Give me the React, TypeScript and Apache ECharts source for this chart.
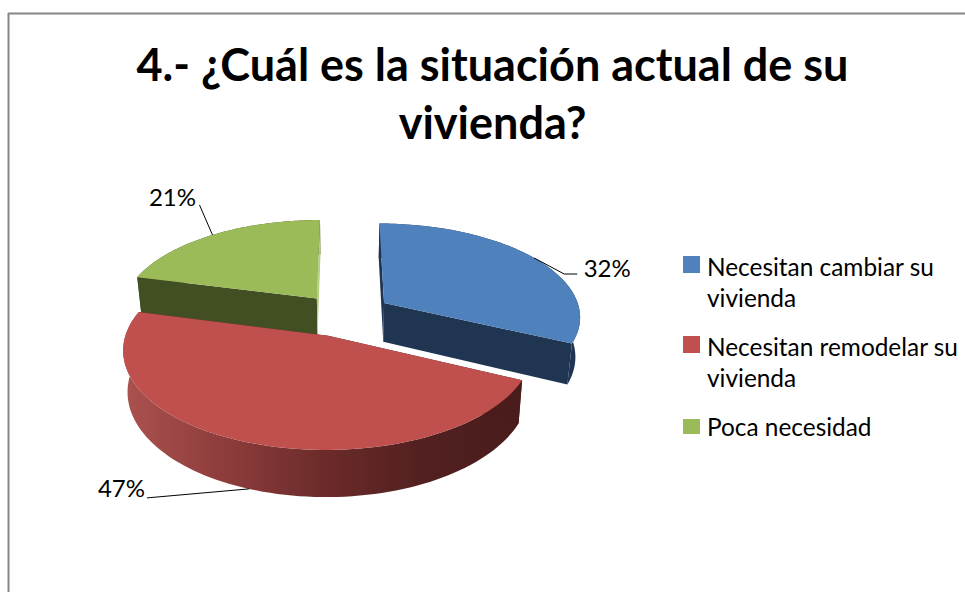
import React, { useEffect, useRef } from "react";
import * as echarts from "echarts";

const TITLE = "4.- ¿Cuál es la situación actual de su\nvivienda?";
const CATEGORIES = ["Necesitan cambiar su vivienda", "Necesitan remodelar su vivienda", "Poca necesidad"];
const LEGEND_LABELS = ["Necesitan cambiar su\nvivienda", "Necesitan remodelar su\nvivienda", "Poca necesidad"];
const VALUES = [32, 47, 21];
const TOP_COLORS = ["#4F81BD", "#C0504D", "#9BBB59"];
const START_FACE_COLORS = ["#1F3552", "#4A1C1B", "#414F23"];
const END_FACE_COLORS = ["#1F3552", "#4A1C1B", "#B5CC85"];
const WALL_STOPS = [
  [[0, "#1F3552"], [1, "#1F3552"]],
  [[0, "#AB524F"], [0.25, "#8E3D3C"], [0.5, "#6C2B2A"], [0.75, "#522020"], [1, "#4A1C1B"]],
  [[0, "#414F23"], [1, "#414F23"]],
];
const EXPLODE = [0.245, 0.23, 0.23];
// label placement relative to the slice's mid-arc anchor
const LABEL_LAYOUT = [
  { line: [[30, 16], [43, 16]], text: [73, 9], depth: 0 },
  { line: [[-102, 9]], text: [-127.5, -1], depth: 1 },
  { line: [[-13, -30]], text: [-40, -38], depth: 0 },
];

const CX = 344, CY = 315, RX = 197, RY = 93, PERSP = 0.133, DEPTH = 39.5, TAPER = 0.02;

function project(u: number, v: number, z: number) {
  const s = 1 / (1 - PERSP * v);
  return [CX + RX * u * s * (1 - TAPER * z), CY + RY * v * s + z * DEPTH * s];
}

function sliceAngles(index: number) {
  const total = VALUES.reduce((a, b) => a + b, 0);
  const before = VALUES.slice(0, index).reduce((a, b) => a + b, 0);
  return [(before / total) * 2 * Math.PI, ((before + VALUES[index]) / total) * 2 * Math.PI];
}

function renderSlice(params: any) {
  const i = params.seriesIndex;
  const [a0, a1] = sliceAngles(i);
  const mid = (a0 + a1) / 2;
  const ox = Math.sin(mid) * EXPLODE[i], oy = -Math.cos(mid) * EXPLODE[i];
  const at = (a: number, z: number) => project(ox + Math.sin(a), oy - Math.cos(a), z);
  const steps = 90;
  const top: number[][] = [], bottom: number[][] = [];
  for (let k = 0; k <= steps; k++) {
    const a = a0 + ((a1 - a0) * k) / steps;
    top.push(at(a, 0));
    bottom.push(at(a, 1));
  }
  const apexTop = project(ox, oy, 0), apexBottom = project(ox, oy, 1);
  const face = (tipTop: number[], tipBottom: number[], fill: string) => ({
    type: "polygon",
    shape: { points: [apexTop, tipTop, tipBottom, apexBottom] },
    style: { fill },
  });
  const wallFill = new echarts.graphic.LinearGradient(
    0, 0, 1, 0,
    WALL_STOPS[i].map(([offset, color]) => ({ offset: offset as number, color: color as string })),
  );
  const layout = LABEL_LAYOUT[i];
  const anchor = at(mid, layout.depth);
  const children: any[] = [
    { type: "polygon", shape: { points: [...top, ...bottom.slice().reverse()] }, style: { fill: wallFill } },
    face(top[0], bottom[0], START_FACE_COLORS[i]),
    face(top[steps], bottom[steps], END_FACE_COLORS[i]),
    { type: "polygon", shape: { points: [apexTop, ...top] }, style: { fill: TOP_COLORS[i] } },
    {
      type: "polyline",
      shape: { points: [anchor, ...layout.line.map(([dx, dy]) => [anchor[0] + dx, anchor[1] + dy])] },
      style: { stroke: "#000000", lineWidth: 1, fill: "none" },
    },
    {
      type: "text",
      style: {
        text: `${VALUES[i]}%`,
        x: anchor[0] + layout.text[0],
        y: anchor[1] + layout.text[1],
        align: "center",
        verticalAlign: "middle",
        font: "24px Lato",
        fill: "#000000",
      },
    },
  ];
  return { type: "group", children };
}

const DRAW_ORDER = [2, 0, 1];

export default function App() {
  const ref = useRef<HTMLDivElement>(null);
  useEffect(() => {
    document.body.style.margin = "0";
    const chart = echarts.init(ref.current!, null, { renderer: "svg" });
    const legendBase = {
      orient: "vertical",
      left: 683,
      padding: 0,
      selectedMode: false,
      itemWidth: 19,
      textStyle: { fontFamily: "Lato", fontSize: 24.4, lineHeight: 31, color: "#000000" },
      formatter: (name: string) => LEGEND_LABELS[CATEGORIES.indexOf(name)],
    };
    const twoLineIcon = "path://M0,5.5H17V22.5H0Z M0,0L0,0 M19,62L19,62";
    chart.setOption({
      animation: false,
      backgroundColor: "#FFFFFF",
      title: {
        text: TITLE,
        left: 487.5,
        top: 30,
        textAlign: "center",
        textStyle: { fontFamily: "Lato", fontWeight: "bold", fontSize: 45, lineHeight: 58, color: "#000000" },
      },
      legend: [
        { ...legendBase, top: 250.5, itemHeight: 62, icon: twoLineIcon, data: [CATEGORIES[0]] },
        { ...legendBase, top: 330.5, itemHeight: 62, icon: twoLineIcon, data: [CATEGORIES[1]] },
        { ...legendBase, top: 411, itemHeight: 15, icon: "path://M0,0H17V15H0Z M19,0L19,0", data: [CATEGORIES[2]] },
      ],
      graphic: [
        { type: "line", shape: { x1: 8.5, y1: 13, x2: 8.5, y2: 592 }, style: { stroke: "#868686", lineWidth: 2 }, silent: true },
        { type: "line", shape: { x1: 8, y1: 13.5, x2: 965, y2: 13.5 }, style: { stroke: "#868686", lineWidth: 2 }, silent: true },
      ],
      series: DRAW_ORDER.map((i) => ({
        type: "custom",
        name: CATEGORIES[i],
        coordinateSystem: "none",
        silent: true,
        itemStyle: { color: TOP_COLORS[i] },
        data: [[VALUES[i]]],
        renderItem: (params: any) => renderSlice({ ...params, seriesIndex: i }),
      })),
    });
    return () => chart.dispose();
  }, []);
  return <div ref={ref} style={{ width: 965, height: 592 }} />;
}
